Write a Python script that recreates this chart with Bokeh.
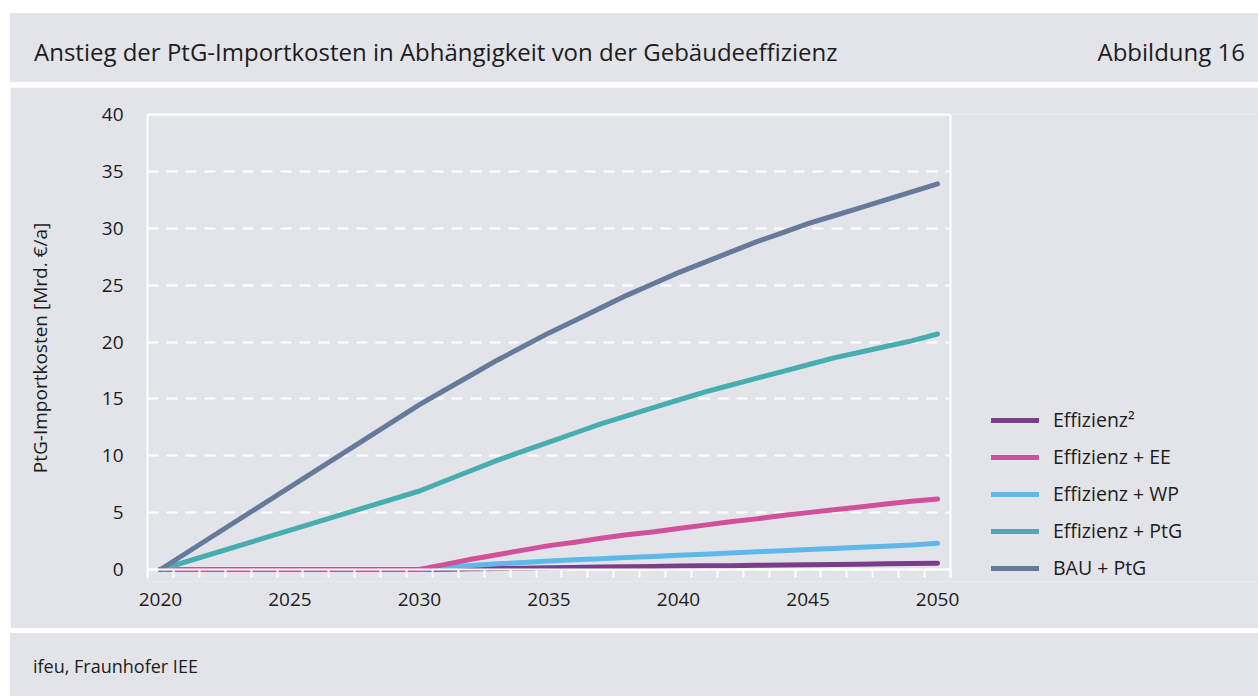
from bokeh.plotting import figure
from bokeh.models import (FixedTicker, Legend, LegendItem, Range1d, Div, LinearAxis)
from bokeh.layouts import column
from bokeh.embed import file_html
from bokeh.resources import INLINE

# ---- data ----
years = [2020, 2030, 2031, 2032, 2033, 2034, 2035, 2036, 2037, 2038, 2039,
         2040, 2041, 2042, 2043, 2044, 2045, 2046, 2047, 2048, 2049, 2050]
effizienz2 = [0, 0, 0.03, 0.06, 0.09, 0.12, 0.15, 0.18, 0.21, 0.24, 0.27,
              0.30, 0.32, 0.34, 0.37, 0.40, 0.42, 0.45, 0.47, 0.50, 0.52, 0.55]
eff_ee = [0, 0, 0.45, 0.9, 1.3, 1.7, 2.1, 2.4, 2.75, 3.05, 3.3,
          3.6, 3.9, 4.2, 4.45, 4.75, 5.0, 5.25, 5.5, 5.75, 6.0, 6.2]
eff_wp = [0, 0, 0.2, 0.35, 0.5, 0.62, 0.75, 0.85, 0.95, 1.05, 1.15,
          1.25, 1.35, 1.45, 1.55, 1.65, 1.75, 1.85, 1.95, 2.05, 2.15, 2.3]
eff_ptg = [0, 6.9, 7.8, 8.7, 9.6, 10.4, 11.2, 12.0, 12.8, 13.5, 14.2,
           14.9, 15.6, 16.2, 16.8, 17.4, 18.0, 18.6, 19.1, 19.6, 20.1, 20.7]
bau_ptg = [0, 14.5, 15.8, 17.1, 18.4, 19.6, 20.8, 21.9, 23.0, 24.1, 25.1,
           26.1, 27.0, 27.9, 28.8, 29.6, 30.4, 31.1, 31.8, 32.5, 33.2, 33.9]

series_names = ["Effizienz²", "Effizienz + EE", "Effizienz + WP", "Effizienz + PtG", "BAU + PtG"]
series_values = [effizienz2, eff_ee, eff_wp, eff_ptg, bau_ptg]
series_colors = ["#7a3e8b", "#d0509a", "#5eb9ea", "#47adb1", "#667a9c"]
draw_order = [0, 2, 1, 3, 4]

x_tick_labels = [2020, 2025, 2030, 2035, 2040, 2045, 2050]
y_ticks = [0, 5, 10, 15, 20, 25, 30, 35, 40]

title_text = "Anstieg der PtG-Importkosten in Abhängigkeit von der Gebäudeeffizienz"
fig_label = "Abbildung 16"
source_text = "ifeu, Fraunhofer IEE"
y_axis_label = "PtG-Importkosten [Mrd. €/a]"

BG = "#e3e4e9"
TXT = "#1c1c1c"
FONT = "Open Sans"
W = 1248

# plot-area geometry (pixels)
H_MAIN = 541
BORDER_L, BORDER_R, BORDER_T, BORDER_B = 137, 0, 27, 47
DATA_W_PX = 803      # width of the boxed data area
DATA_H_PX = 455      # height from 0 to 40
TICK_PX = 8          # outward tick length below the zero line
X0, X1 = min(years) - 0.5, max(years) + 0.5
Y0, Y1 = 0, 40
frame_w = W - BORDER_L - BORDER_R
frame_h = H_MAIN - BORDER_T - BORDER_B
x_end = X0 + (X1 - X0) * frame_w / DATA_W_PX
y_start = Y1 - (Y1 - Y0) * frame_h / DATA_H_PX
y_axis_low = Y0 - TICK_PX * (Y1 - Y0) / DATA_H_PX

# ---- title panel ----
title_html = (
    f'<div style="position:relative;width:{W}px;height:69px;background:{BG};'
    f'font-family:\'{FONT}\';color:{TXT};">'
    f'<span style="position:absolute;left:24px;top:27px;font-size:24px;line-height:1;white-space:nowrap;">{title_text}</span>'
    f'<span style="position:absolute;right:13px;top:27px;font-size:24px;line-height:1;white-space:nowrap;">{fig_label}</span>'
    '</div>'
)
tp = Div(text=title_html, width=W, height=69, margin=0, styles={"background-color": BG})

# ---- main chart ----
p = figure(width=W, height=H_MAIN, x_range=Range1d(X0, x_end), y_range=Range1d(y_start, Y1),
           toolbar_location=None, output_backend="svg",
           min_border_left=BORDER_L, min_border_right=BORDER_R,
           min_border_top=BORDER_T, min_border_bottom=BORDER_B)
p.background_fill_color = BG
p.border_fill_color = BG
p.outline_line_color = None

p.xgrid.visible = False
yg = p.ygrid[0]
yg.grid_line_color = "white"
yg.grid_line_width = 2
yg.grid_line_dash = "11 8"
yg.ticker = FixedTicker(ticks=y_ticks)
if "cross_bounds" in yg.properties():
    yg.cross_bounds = (X0, X1)

# x axis: labels only (below the frame)
xa = p.xaxis[0]
xa.ticker = FixedTicker(ticks=x_tick_labels)
xa.axis_line_color = None
xa.major_tick_line_color = None
xa.minor_tick_line_color = None
xa.major_tick_out = 0
xa.major_tick_in = 0
xa.minor_tick_out = 0
xa.minor_tick_in = 0
xa.major_label_standoff = 11
xa.major_label_text_font = FONT
xa.major_label_text_font_size = "19px"
xa.major_label_text_color = TXT

# x axis line + year ticks at the zero line
x_line_axis = LinearAxis(ticker=FixedTicker(ticks=[], minor_ticks=[X0 + i for i in range(32)]),
                         fixed_location=Y0, bounds=(X0, X1),
                         axis_line_color="white", axis_line_width=2,
                         major_tick_out=0, major_tick_in=0,
                         minor_tick_out=TICK_PX, minor_tick_in=0,
                         minor_tick_line_color="white", minor_tick_line_width=2,
                         major_label_text_font_size="0px", major_label_standoff=0)
p.add_layout(x_line_axis, "below")

ya = p.yaxis[0]
ya.ticker = FixedTicker(ticks=y_ticks)
ya.bounds = (y_axis_low, Y1)
ya.axis_line_color = "white"
ya.axis_line_width = 2
ya.major_tick_out = 0
ya.major_tick_in = 0
ya.minor_tick_out = 0
ya.minor_tick_in = 0
ya.major_label_standoff = 24
ya.major_label_text_font = FONT
ya.major_label_text_font_size = "19px"
ya.major_label_text_color = TXT
ya.axis_label = y_axis_label
ya.axis_label_text_font = FONT
ya.axis_label_text_font_size = "19px"
ya.axis_label_text_font_style = "normal"
ya.axis_label_text_color = TXT
ya.axis_label_standoff = 46

# top border of the data box
top_axis = LinearAxis(ticker=FixedTicker(ticks=[]), bounds=(X0, X1),
                      axis_line_color="white", axis_line_width=2,
                      major_tick_out=0, major_tick_in=0, minor_tick_out=0, minor_tick_in=0,
                      major_label_text_font_size="0px", major_label_standoff=0)
p.add_layout(top_axis, "above")
# right border of the data box
right_axis = LinearAxis(ticker=FixedTicker(ticks=[]), fixed_location=X1, bounds=(y_axis_low, Y1),
                        axis_line_color="white", axis_line_width=2,
                        major_tick_out=0, major_tick_in=0, minor_tick_out=0, minor_tick_in=0,
                        major_label_text_font_size="0px", major_label_standoff=0)
p.add_layout(right_axis, "left")

renderers = {}
for i in draw_order:
    r = p.line(years, series_values[i], line_color=series_colors[i], line_width=5,
               line_cap="round", line_join="round")
    renderers[i] = r

items = [LegendItem(label=series_names[i], renderers=[renderers[i]]) for i in range(5)]
legend = Legend(items=items, location=(844, 0), orientation="vertical",
                padding=0, margin=0, spacing=10, glyph_width=48, glyph_height=20,
                label_height=20, label_standoff=14,
                label_text_font=FONT, label_text_font_size="19.5px", label_text_color=TXT,
                border_line_color=None, background_fill_alpha=0)
p.add_layout(legend, "center")

# ---- footer panel ----
footer_html = (
    f'<div style="position:relative;width:{W}px;height:63px;background:{BG};'
    f'font-family:\'{FONT}\';color:{TXT};">'
    f'<span style="position:absolute;left:23px;top:24px;font-size:18px;line-height:1;white-space:nowrap;">{source_text}</span>'
    '</div>'
)
fp = Div(text=footer_html, width=W, height=63, margin=0, styles={"background-color": BG})

layout = column(tp, p, fp, spacing=5, margin=(13, 0, 0, 10))

open("out.html", "w").write(file_html(layout, INLINE))
